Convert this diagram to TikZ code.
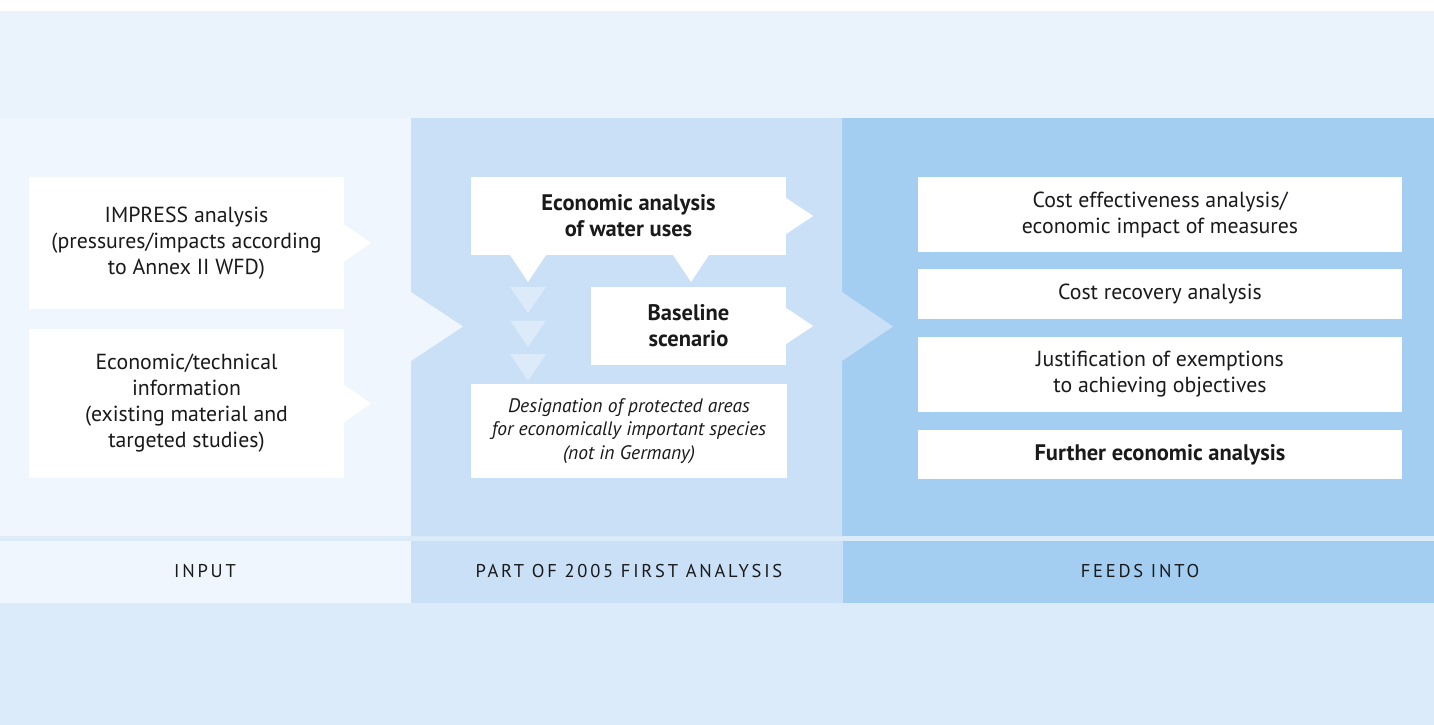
\documentclass[tikz,border=0pt]{standalone}
\usepackage{fontspec}
\setmainfont{PT Sans}
\usetikzlibrary{calc}
\definecolor{topband}{HTML}{EAF2FB}
\definecolor{colA}{HTML}{F0F6FE}
\definecolor{colB}{HTML}{C9E0F6}
\definecolor{colC}{HTML}{A3CEF1}
\definecolor{bottomband}{HTML}{DCEBFA}
\definecolor{fadetri}{HTML}{DCEAF9}
\definecolor{txt}{HTML}{1A1A1A}
\tikzset{
  box/.style={fill=white, inner sep=0pt, align=center, text=txt, font=\fontsize{21.8}{26}\selectfont},
  smallbox/.style={box, font=\fontsize{19.5}{23.5}\selectfont\itshape},
  boldbox/.style={box, font=\fontsize{22.5}{26}\selectfont\bfseries},
  head/.style={text=txt, font=\fontsize{18.5}{22}\selectfont\addfontfeatures{LetterSpace=15}},
  pointer/.style={fill=white},
  fade/.style={fill=fadetri}
}
\begin{document}
\begin{tikzpicture}[x=1pt,y=-1pt]
\useasboundingbox (0,0) rectangle (1434,725);
% backgrounds
\fill[bottomband] (0,0) rectangle (1434,725);
\fill[white] (0,0) rectangle (1434,11);
\fill[topband] (0,11) rectangle (1434,118);
% columns
\fill[colC] (842,118) rectangle (1434,536);
\fill[colB] (411,118) -- (842,118) -- (842,292) -- (893,326.5) -- (842,361) -- (842,536) -- (411,536) -- cycle;
\fill[colA] (0,118) -- (411,118) -- (411,292) -- (463,326.5) -- (411,361) -- (411,536) -- (0,536) -- cycle;
% header band
\fill[colA] (0,541) rectangle (411,603);
\fill[colB] (411,541) rectangle (843,603);
\fill[colC] (843,541) rectangle (1434,603);
\node[head] (hA) at (205,571) {INPUT};
\node[head] (hB) at (629,571) {PART OF 2005 FIRST ANALYSIS};
\node[head] (hC) at (1140,571) {FEEDS INTO};
% column 1
\node[box, minimum width=315pt, minimum height=132pt] (impress) at (186.5,243) {IMPRESS analysis\\(pressures/impacts according\\to Annex II WFD)};
\node[box, minimum width=315pt, minimum height=149pt] (econtech) at (186.5,403.5) {Economic/technical\\information\\(existing material and\\targeted studies)};
\fill[pointer] ($(impress.east)+(0,-18.5)$) -- ($(impress.east)+(27,0)$) -- ($(impress.east)+(0,18.5)$) -- cycle;
\fill[pointer] ($(econtech.east)+(0,-18.5)$) -- ($(econtech.east)+(27,0)$) -- ($(econtech.east)+(0,18.5)$) -- cycle;
% column 2
\node[boldbox, minimum width=315pt, minimum height=78pt] (ecowater) at (628.5,216) {Economic analysis\\of water uses};
\node[boldbox, minimum width=195pt, minimum height=78pt] (baseline) at (688.5,326) {Baseline\\scenario};
\node[smallbox, minimum width=316pt, minimum height=94pt] (designation) at (629,431) {Designation of protected areas\\for economically important species\\(not in Germany)};
\fill[pointer] ($(ecowater.east)+(0,-18)$) -- ($(ecowater.east)+(27,0)$) -- ($(ecowater.east)+(0,18)$) -- cycle;
\fill[pointer] ($(baseline.east)+(0,-18)$) -- ($(baseline.east)+(27,0)$) -- ($(baseline.east)+(0,18)$) -- cycle;
\fill[pointer] (510,255) -- (528,282) -- (546,255) -- cycle;
\fill[pointer] (673,255) -- (691,282) -- (709,255) -- cycle;
\fill[fade] (510,287) -- (528,313) -- (546,287) -- cycle;
\fill[fade] (510,320.5) -- (528,347) -- (546,320.5) -- cycle;
\fill[fade] (510,354) -- (528,381) -- (546,354) -- cycle;
% column 3
\node[box, minimum width=484pt, minimum height=75pt] (costeff) at (1160,214.5) {Cost effectiveness analysis/\\economic impact of measures};
\node[box, minimum width=484pt, minimum height=50pt] (costrec) at (1160,294) {Cost recovery analysis};
\node[box, minimum width=484pt, minimum height=75pt] (justif) at (1160,374.5) {Justification of exemptions\\to achieving objectives};
\node[boldbox, minimum width=484pt, minimum height=49pt] (further) at (1160,454.5) {Further economic analysis};
\end{tikzpicture}
\end{document}
